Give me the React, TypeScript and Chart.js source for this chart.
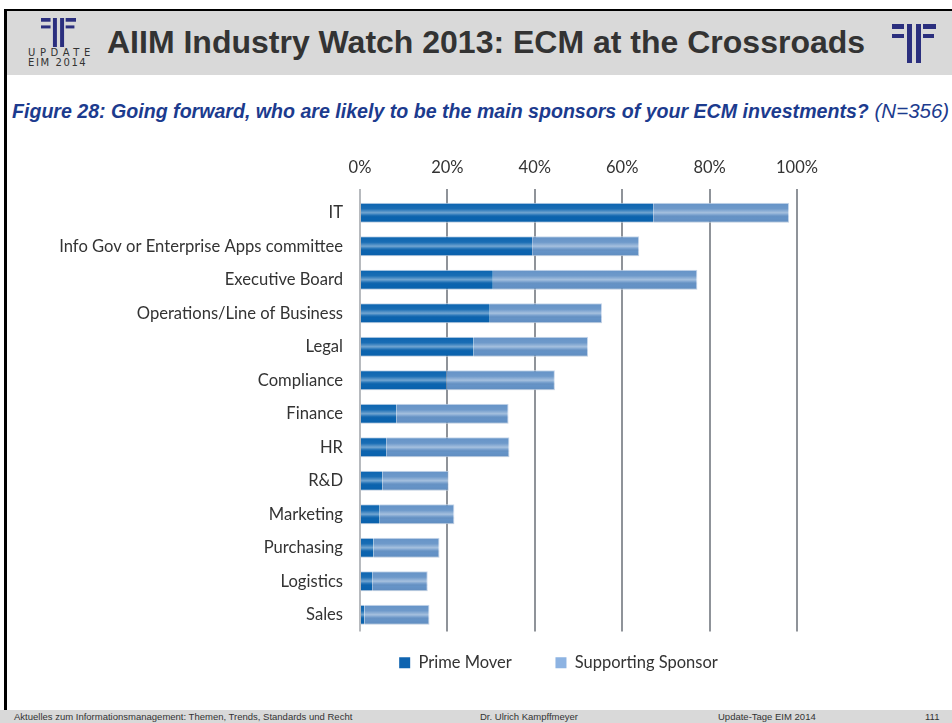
import React, { useEffect, useRef } from "react";
import { Chart, registerables } from "chart.js";

Chart.register(...registerables);

const categories = [
  "IT",
  "Info Gov or Enterprise Apps committee",
  "Executive Board",
  "Operations/Line of Business",
  "Legal",
  "Compliance",
  "Finance",
  "HR",
  "R&D",
  "Marketing",
  "Purchasing",
  "Logistics",
  "Sales",
];

const primeMover = [67.1, 39.4, 30.4, 29.7, 26.0, 19.8, 8.3, 6.0, 5.1, 4.5, 3.1, 2.8, 1.0];
const supportingSponsor = [31.1, 24.5, 46.8, 25.7, 26.2, 24.8, 25.7, 28.2, 15.2, 17.1, 15.1, 12.7, 14.9];

const seriesNames = ["Prime Mover", "Supporting Sponsor"];
const xTicks = [0, 20, 40, 60, 80, 100];

const LABEL_FONT = "Lato, 'Open Sans', sans-serif";

const stripePlugin = {
  id: "stripes",
  afterDatasetsDraw(chart: any) {
    const ctx = chart.ctx;
    chart.data.datasets.forEach((_ds: any, i: number) => {
      const meta = chart.getDatasetMeta(i);
      meta.data.forEach((el: any) => {
        const p = el.getProps(["x", "y", "base", "height"], true);
        const left = Math.min(p.base, p.x);
        const w = Math.abs(p.x - p.base);
        const top = p.y - p.height / 2;
        const h = p.height;
        const g = ctx.createLinearGradient(0, top, 0, top + h);
        g.addColorStop(0, "rgba(255,255,255,0)");
        g.addColorStop(0.3, "rgba(255,255,255,0.06)");
        g.addColorStop(0.5, "rgba(255,255,255,0.42)");
        g.addColorStop(0.62, "rgba(255,255,255,0.1)");
        g.addColorStop(0.75, "rgba(0,0,0,0)");
        g.addColorStop(1, "rgba(0,0,0,0.04)");
        ctx.save();
        ctx.fillStyle = g;
        ctx.fillRect(left, top, w, h);
        ctx.restore();
      });
    });
  },
};

// centre the legend under the plot the way the original slide does
const legendShiftPlugin = {
  id: "legendShift",
  afterLayout(chart: any) {
    const l = chart.legend;
    if (!l) return;
    const shift = 160;
    l.left += shift;
    l.right += shift;
  },
};

function Logo({ w, h }: { w: number; h: number }) {
  const c = "#2b2f7e";
  return (
    <svg width={w} height={h} viewBox="0 0 44 39" preserveAspectRatio="none">
      <rect x="0" y="0" width="12" height="5" fill={c} />
      <rect x="0" y="10" width="12" height="4" fill={c} />
      <rect x="15" y="0" width="5" height="39" fill={c} />
      <rect x="24" y="0" width="5" height="39" fill={c} />
      <rect x="31" y="0" width="13" height="5" fill={c} />
      <rect x="31" y="10" width="11" height="4" fill={c} />
    </svg>
  );
}

export default function App() {
  const canvasRef = useRef<HTMLCanvasElement | null>(null);

  useEffect(() => {
    const canvas = canvasRef.current;
    if (!canvas) return;
    const chart = new Chart(canvas, {
      type: "bar",
      data: {
        labels: categories,
        datasets: [
          {
            label: seriesNames[0],
            data: primeMover,
            backgroundColor: "#0b64b0",
            borderColor: "#c9d8ec",
            borderWidth: { top: 1, bottom: 1, left: 0, right: 0 },
            borderSkipped: false,
            barPercentage: 0.6,
            categoryPercentage: 1,
          },
          {
            label: seriesNames[1],
            data: supportingSponsor,
            backgroundColor: "#6593c7",
            borderColor: "#c9d8ec",
            borderWidth: { top: 1, bottom: 1, left: 0, right: 1 },
            borderSkipped: false,
            barPercentage: 0.6,
            categoryPercentage: 1,
          },
        ],
      },
      options: {
        indexAxis: "y",
        animation: false,
        responsive: false,
        maintainAspectRatio: false,
        devicePixelRatio: 1,
        layout: { padding: { left: 0, right: 155, top: 0, bottom: 0 } },
        scales: {
          x: {
            position: "top",
            stacked: true,
            min: 0,
            max: 100,
            afterBuildTicks: (scale: any) => {
              scale.ticks = xTicks.map((v) => ({ value: v }));
            },
            afterFit: (scale: any) => {
              scale.height = 56;
            },
            ticks: {
              callback: (v: any) => v + "%",
              color: "#333333",
              font: { family: LABEL_FONT, size: 16.5 },
              padding: 11,
              maxRotation: 0,
            },
            grid: {
              color: (ctx: any) => (ctx.index === 0 ? "#b7babe" : "#8f9399"),
              lineWidth: 2,
              tickLength: 7,
              drawTicks: true,
            },
            border: { display: false },
          },
          y: {
            stacked: true,
            afterFit: (scale: any) => {
              scale.width = 360;
            },
            ticks: {
              color: "#333333",
              font: { family: LABEL_FONT, size: 16.6 },
              padding: 17,
            },
            grid: { display: false, drawTicks: false },
            border: { display: false },
          },
        },
        plugins: {
          tooltip: { enabled: false },
          legend: {
            position: "bottom",
            labels: {
              boxWidth: 11,
              boxHeight: 11,
              padding: 23,
              color: "#333333",
              font: { family: LABEL_FONT, size: 16.5 },
              generateLabels: (ch: any) => {
                const items = Chart.defaults.plugins.legend.labels.generateLabels(ch);
                return items.map((it: any, i: number) => ({
                  ...it,
                  text: i === 0 ? it.text + "\u2003\u2002" : it.text,
                  fillStyle: i === 0 ? "#0f64b0" : "#8db3e2",
                  strokeStyle: "rgba(0,0,0,0)",
                  lineWidth: 0,
                }));
              },
            },
          },
        },
      },
      plugins: [stripePlugin, legendShiftPlugin],
    } as any);
    return () => chart.destroy();
  }, []);

  const abs = (s: React.CSSProperties): React.CSSProperties => ({ position: "absolute", ...s });
  const footerFont = "'Liberation Sans Narrow', 'Liberation Sans', sans-serif";

  return (
    <div style={abs({ top: 0, left: 0, width: 952, height: 723, background: "#fff", overflow: "hidden", fontFamily: "'Liberation Sans', Arial, sans-serif" })}>
      {/* frame */}
      <div style={abs({ top: 9, left: 4, width: 948, height: 2, background: "#000" })} />
      <div style={abs({ top: 9, left: 4, width: 3, height: 701, background: "#000" })} />
      {/* header */}
      <div style={abs({ top: 11, left: 7, width: 945, height: 64, background: "#d9d9d9" })} />
      <div style={abs({ top: 18, left: 41 })}>
        <Logo w={35} h={29} />
      </div>
      <div style={abs({ top: 48, left: 28, fontSize: 10, lineHeight: "10px", letterSpacing: "4.6px", color: "#333", fontFamily: "'DejaVu Sans', sans-serif" })}>UPDATE</div>
      <div style={abs({ top: 58, left: 28, fontSize: 10, lineHeight: "10px", letterSpacing: "1.6px", color: "#333", fontFamily: "'DejaVu Sans', sans-serif" })}>EIM 2014</div>
      <div style={abs({ top: 24, left: 892 })}>
        <Logo w={44} h={39} />
      </div>
      <div style={abs({ top: 26, left: 107, fontSize: 32, lineHeight: "32px", fontWeight: "bold", color: "#333333", whiteSpace: "nowrap" })}>
        AIIM Industry Watch 2013: ECM at the Crossroads
      </div>
      {/* subtitle */}
      <div style={abs({ top: 101, left: 12, fontSize: 19.6, lineHeight: "19.6px", fontStyle: "italic", color: "#1c3b8e", whiteSpace: "nowrap" })}>
        <span style={{ fontWeight: "bold" }}>Figure 28: Going forward, who are likely to be the main sponsors of your ECM investments?</span>
        <span style={{ fontSize: 20.5 }}> (N=356)</span>
      </div>
      {/* chart */}
      <canvas ref={canvasRef} width={952} height={541} style={abs({ top: 140, left: 0, width: 952, height: 541 })} />
      {/* footer */}
      <div style={abs({ top: 710, left: 0, width: 952, height: 13, background: "#d9d9d9" })} />
      <div style={abs({ top: 712, left: 14, fontSize: 9.5, lineHeight: "10px", color: "#333", whiteSpace: "nowrap", fontFamily: footerFont })}>
        Aktuelles zum Informationsmanagement: Themen, Trends, Standards und Recht
      </div>
      <div style={abs({ top: 712, left: 480, fontSize: 9.5, lineHeight: "10px", color: "#333", whiteSpace: "nowrap", fontFamily: footerFont })}>
        Dr. Ulrich Kampffmeyer
      </div>
      <div style={abs({ top: 712, left: 718, fontSize: 9.5, lineHeight: "10px", color: "#333", whiteSpace: "nowrap", fontFamily: footerFont })}>
        Update-Tage EIM 2014
      </div>
      <div style={abs({ top: 712, left: 925, fontSize: 9.5, lineHeight: "10px", color: "#333", whiteSpace: "nowrap", fontFamily: footerFont })}>
        111
      </div>
    </div>
  );
}
